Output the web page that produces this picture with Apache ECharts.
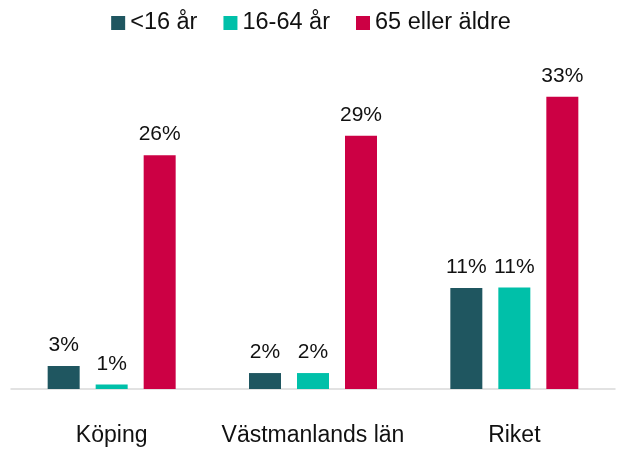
<!DOCTYPE html>
<html>
<head>
<meta charset="utf-8">
<script src="https://cdn.jsdelivr.net/npm/echarts@6/dist/echarts.min.js"></script>
<style>
  html, body { margin: 0; padding: 0; background: #fff; }
  #box { width: 622px; height: 450px; }
</style>
</head>
<body>
<div id="box"></div>
<script>
// kategorier och andelar (%)
const categories = ["Köping", "Västmanlands län", "Riket"];
const under16 = [2.6, 1.8, 11.4];
const age16to64 = [0.5, 1.8, 11.45];
const over65 = [26.4, 28.6, 33.0];
const seriesNames = ["<16 år", "16-64 år", "65 eller äldre"];

const colors = ["#1F5660", "#00C0A9", "#CC0044"];
const font = "Liberation Sans, Arial, sans-serif";

let chart = echarts.init(document.getElementById("box"));

function makeSeries(name, data, color) {
  return {
    name: name,
    type: "bar",
    data: data,
    barWidth: 32,
    barGap: "50%",
    itemStyle: { color: color },
    label: {
      show: true,
      position: "top",
      distance: 10,
      fontFamily: font,
      fontSize: 21,
      color: "#111",
      formatter: (p) => Math.round(p.value) + "%",
    },
  };
}

let option = {
  animation: false,
  color: colors,
  legend: {
    data: seriesNames,
    left: "center",
    top: 6,
    icon: "rect",
    itemWidth: 14,
    itemHeight: 14,
    itemGap: 26,
    textStyle: { fontFamily: font, fontSize: 23.5, color: "#111" },
  },
  grid: { left: 11, right: 7, top: 79, bottom: 61 },
  xAxis: {
    type: "category",
    data: categories,
    axisLine: { lineStyle: { color: "#d9d9d9", width: 1.5 } },
    axisTick: { show: false },
    axisLabel: { interval: 0, fontFamily: font, fontSize: 23, color: "#111", margin: 35 },
  },
  yAxis: {
    type: "value",
    min: 0,
    max: 35,
    show: false,
    splitLine: { show: false },
  },
  series: [
    makeSeries(seriesNames[0], under16, colors[0]),
    makeSeries(seriesNames[1], age16to64, colors[1]),
    makeSeries(seriesNames[2], over65, colors[2]),
  ],
};

chart.setOption(option);
</script>
</body>
</html>
